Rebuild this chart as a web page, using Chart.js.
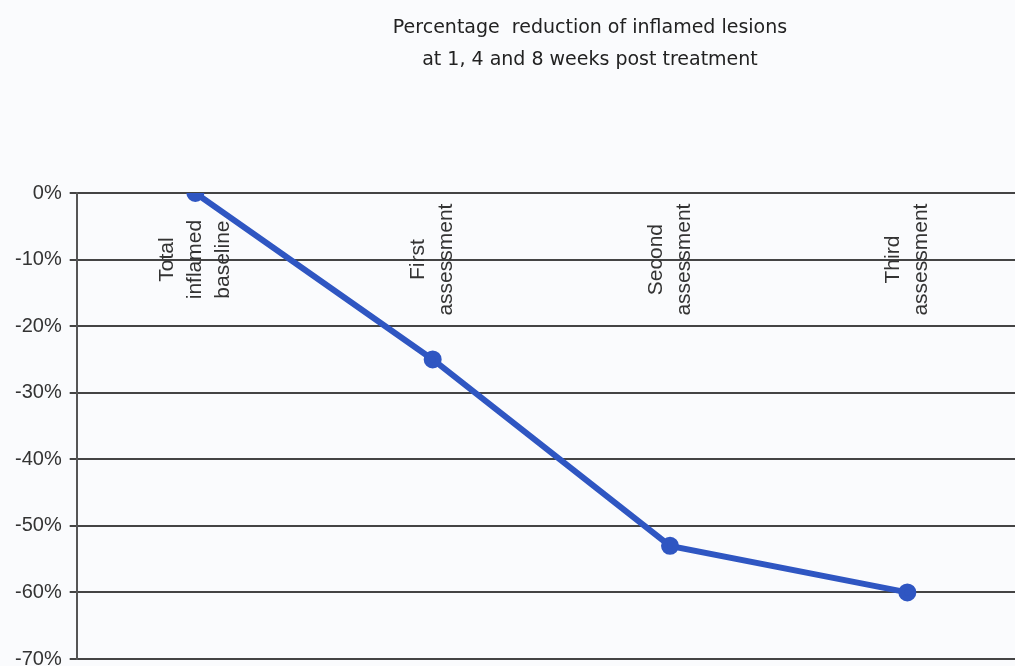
<!DOCTYPE html>
<html>
<head>
<meta charset="utf-8">
<script src="https://cdn.jsdelivr.net/npm/chart.js@4.4.0/dist/chart.umd.min.js"></script>
<style>
  html, body { margin: 0; padding: 0; overflow: hidden; background: #fafbfd; }
  #wrap { width: 1180px; height: 679px; }
</style>
</head>
<body>
<div id="wrap"><canvas id="lesionChart" width="1180" height="679"></canvas></div>
<script>
const ctx = document.getElementById('lesionChart').getContext('2d');

// categories (split into the lines shown on the chart)
const categories = [
    ['Total', 'inflamed', 'baseline'],
    ['First', 'assessment'],
    ['Second', 'assessment'],
    ['Third', 'assessment']
];
// percentage change of inflamed lesions
const reduction = [0, -25, -53, -60];
const titleLines = ['Percentage  reduction of inflamed lesions', 'at 1, 4 and 8 weeks post treatment'];
const yMin = -70;
const yMax = 0;
const yStep = 10;

// title centred on the (wider than window) canvas
const chartTitle = {
    id: 'chartTitle',
    afterDraw(chart) {
        const c = chart.ctx;
        c.save();
        c.font = '19px "DejaVu Sans", sans-serif';
        c.fillStyle = '#222';
        c.textAlign = 'center';
        c.textBaseline = 'middle';
        titleLines.forEach((t, i) => c.fillText(t, chart.width / 2, 28 + i * 32));
        c.restore();
    }
};

// vertical category labels drawn inside the plot
const innerLabels = {
    id: 'innerLabels',
    afterDatasetsDraw(chart) {
        const xs = chart.scales.x;
        const ys = chart.scales.y;
        const c = chart.ctx;
        c.save();
        c.font = '21px "Liberation Sans", Arial, sans-serif';
        c.fillStyle = '#333';
        c.textAlign = 'center';
        c.textBaseline = 'middle';
        const cy = ys.getPixelForValue(-10);
        categories.forEach((lines, i) => {
            const cx = xs.getPixelForValue(i);
            lines.forEach((line, j) => {
                c.save();
                c.translate(cx + (j - (lines.length - 1) / 2) * 28, cy);
                c.rotate(-Math.PI / 2);
                c.fillText(line, 0, 0);
                c.restore();
            });
        });
        c.restore();
    }
};

const chart = new Chart(ctx, {
    type: 'line',
    data: {
        labels: categories.map(l => l.join(' ')),
        datasets: [{
            data: reduction,
            borderColor: '#2f56c2',
            backgroundColor: '#2f56c2',
            borderWidth: 6,
            pointRadius: 6,
            pointHoverRadius: 6,
            tension: 0
        }]
    },
    options: {
        responsive: false,
        animation: false,
        layout: { padding: { left: 7, right: 154, top: 193, bottom: 0 } },
        scales: {
            x: {
                display: false,
                offset: true
            },
            y: {
                min: yMin,
                max: yMax,
                ticks: {
                    stepSize: yStep,
                    padding: 8,
                    color: '#333',
                    font: { family: '"Liberation Sans", Arial, sans-serif', size: 20 },
                    callback: v => v + '%'
                },
                grid: { color: '#444', lineWidth: 2, tickLength: 7 },
                border: { color: '#555', width: 2 }
            }
        },
        plugins: {
            legend: { display: false },
            tooltip: { enabled: false },
            title: { display: false }
        }
    },
    plugins: [innerLabels, chartTitle]
});
</script>
</body>
</html>
